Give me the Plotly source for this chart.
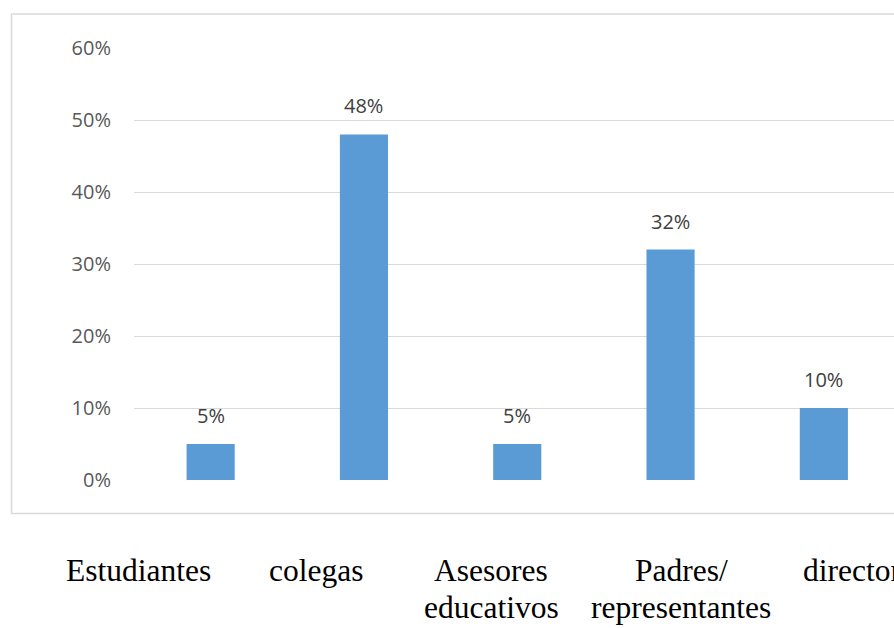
import plotly.graph_objects as go

categories = ["Estudiantes", "colegas", "Asesores educativos", "Padres/ representantes", "directores"]
values = [0.05, 0.48, 0.05, 0.32, 0.10]
value_labels = ["5%", "48%", "5%", "32%", "10%"]
tick_vals = [0, 0.1, 0.2, 0.3, 0.4, 0.5, 0.6]
tick_text = ["0%", "10%", "20%", "30%", "40%", "50%", "60%"]
# Text lines shown below the chart box (as in the source document)
label_line1 = ["Estudiantes", "colegas", "Asesores", "Padres/", "directores"]
label_line2 = ["", "", "educativos", "representantes", ""]

W, H = 894, 628
L, R, T, B = 134, 0, 48, 148
PW = W - L - R
PH = H - T - B

def px_x(px):
    return (px - L) / PW

def px_y(py):
    return (H - B - py) / PH

xs = list(range(len(categories)))

fig = go.Figure()
fig.add_trace(go.Bar(
    x=xs, y=values,
    marker=dict(color="#5B9BD5", line=dict(width=0)),
    hoverinfo="skip",
))

# data labels
for x, v, t in zip(xs, values, value_labels):
    fig.add_annotation(x=x, y=v, xref="x", yref="y", text=t, showarrow=False,
                       yanchor="bottom", yshift=13,
                       font=dict(family="Open Sans", size=20, color="#404040"))

# category text below the box
centers1 = [138, 316, 491, 681, None]
for i, (l1, l2) in enumerate(zip(label_line1, label_line2)):
    font = dict(family="Liberation Serif, Times New Roman, serif", size=31.5, color="#000000")
    if centers1[i] is None:
        fig.add_annotation(x=px_x(801), y=px_y(582), xref="paper", yref="paper", text=l1,
                           showarrow=False, xanchor="left", yanchor="bottom", yshift=-8,
                           font=font)
    else:
        fig.add_annotation(x=px_x(centers1[i]), y=px_y(582), xref="paper", yref="paper", text=l1,
                           showarrow=False, xanchor="center", yanchor="bottom", yshift=-8,
                           font=font)
    if l2:
        fig.add_annotation(x=px_x(centers1[i]), y=px_y(619), xref="paper", yref="paper", text=l2,
                           showarrow=False, xanchor="center", yanchor="bottom", yshift=-8,
                           font=font)

# chart border box
fig.add_shape(type="rect", xref="paper", yref="paper",
              x0=px_x(11.5), x1=px_x(W + 20), y0=px_y(513.5), y1=px_y(14),
              line=dict(color="#D9D9D9", width=1.5), fillcolor="rgba(0,0,0,0)", layer="below")

fig.update_layout(
    width=W, height=H,
    margin=dict(l=L, r=R, t=T, b=B, pad=0),
    paper_bgcolor="white", plot_bgcolor="white",
    showlegend=False,
    bargap=0.686,
    xaxis=dict(range=[-0.5, -0.5 + PW / 153.3], showticklabels=False, showgrid=False,
               zeroline=False, showline=False, ticks=""),
    yaxis=dict(range=[0, 0.6], tickvals=tick_vals, ticktext=tick_text,
               showgrid=True, gridcolor="#D9D9D9", gridwidth=1.3,
               zeroline=False, showline=False, ticks="",
               ticklabelstandoff=22,
               tickfont=dict(family="Open Sans", size=20, color="#595959")),
)

fig.write_html("out.html")
